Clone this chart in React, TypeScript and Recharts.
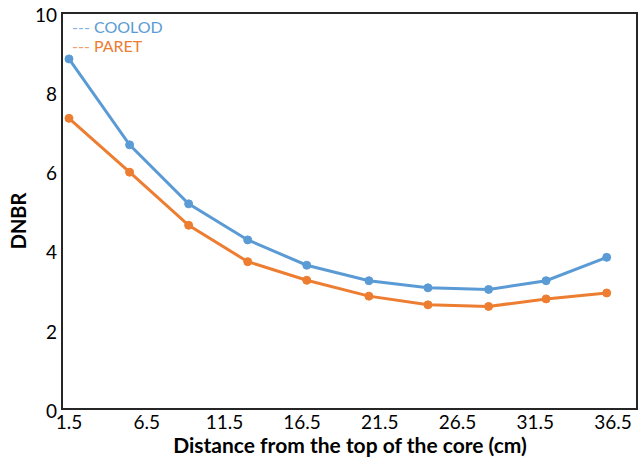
import React from "react";
import { LineChart, Line, XAxis, YAxis, ReferenceArea } from "recharts";

const xValues = [1.5, 5.4, 9.2, 13.0, 16.8, 20.8, 24.6, 28.5, 32.2, 36.1];
const coolod = [8.84, 6.67, 5.18, 4.27, 3.63, 3.24, 3.06, 3.02, 3.24, 3.83];
const paret = [7.34, 5.98, 4.64, 3.72, 3.25, 2.85, 2.63, 2.59, 2.78, 2.93];
const xTicks = [1.5, 6.5, 11.5, 16.5, 21.5, 26.5, 31.5, 36.5];
const yTicks = [0, 2, 4, 6, 8, 10];
const xDomain = [1.05, 38.05];

const series = [
  { key: "coolod", name: "COOLOD", color: "#5B9BD5" },
  { key: "paret", name: "PARET", color: "#ED7D31" },
];

const data = xValues.map((x, i) => ({ x, coolod: coolod[i], paret: paret[i] }));

const FONT = "Lato, 'Open Sans', sans-serif";

export default function App() {
  return (
    <div style={{ position: "absolute", left: 0, top: 0, width: 640, height: 457, background: "#fff", fontFamily: FONT }}>
      <LineChart width={640} height={457} data={data} margin={{ top: 13, right: 3, bottom: 0, left: 0 }}>
        <XAxis
          dataKey="x"
          type="number"
          domain={xDomain}
          ticks={xTicks}
          interval={0}
          axisLine={false}
          tickLine={false}
          tickSize={0}
          tickMargin={7}
          height={48}
          tick={{ fill: "#000", fontSize: 19, fontFamily: FONT }}
          label={(props: any) => {
            const vb = props.viewBox || {};
            return (
              <text x={350} y={(vb.y || 409) + 44} textAnchor="middle" fontWeight="bold" fontSize={21} fill="#000" fontFamily={FONT}>
                Distance from the top of the core (cm)
              </text>
            );
          }}
        />
        <YAxis
          type="number"
          domain={[0, 10]}
          ticks={yTicks}
          interval={0}
          axisLine={false}
          tickLine={false}
          tickSize={0}
          tickMargin={5}
          width={62}
          tick={{ fill: "#000", fontSize: 19, fontFamily: FONT, dy: 2 }}
          label={() => (
            <text x={26} y={221} transform="rotate(-90 26 221)" textAnchor="middle" fontWeight="bold" fontSize={20} fill="#000" fontFamily={FONT}>
              DNBR
            </text>
          )}
        />
        <ReferenceArea x1={xDomain[0]} x2={xDomain[1]} y1={0} y2={10} fill="none" stroke="#262626" strokeWidth={2} ifOverflow="visible" />
        {series.map((s) => (
          <Line
            key={s.key}
            type="linear"
            dataKey={s.key}
            name={s.name}
            stroke={s.color}
            strokeWidth={3}
            dot={{ r: 4, fill: s.color, stroke: s.color, strokeWidth: 1 }}
            activeDot={false}
            isAnimationActive={false}
          />
        ))}
      </LineChart>
      <div style={{ position: "absolute", left: 72, top: 17, fontSize: 16, lineHeight: "19px", fontFamily: FONT }}>
        {series.map((s) => (
          <div key={s.key} style={{ color: s.color, whiteSpace: "nowrap" }}>
            <span style={{ opacity: 0.75 }}>---</span> {s.name}
          </div>
        ))}
      </div>
    </div>
  );
}
